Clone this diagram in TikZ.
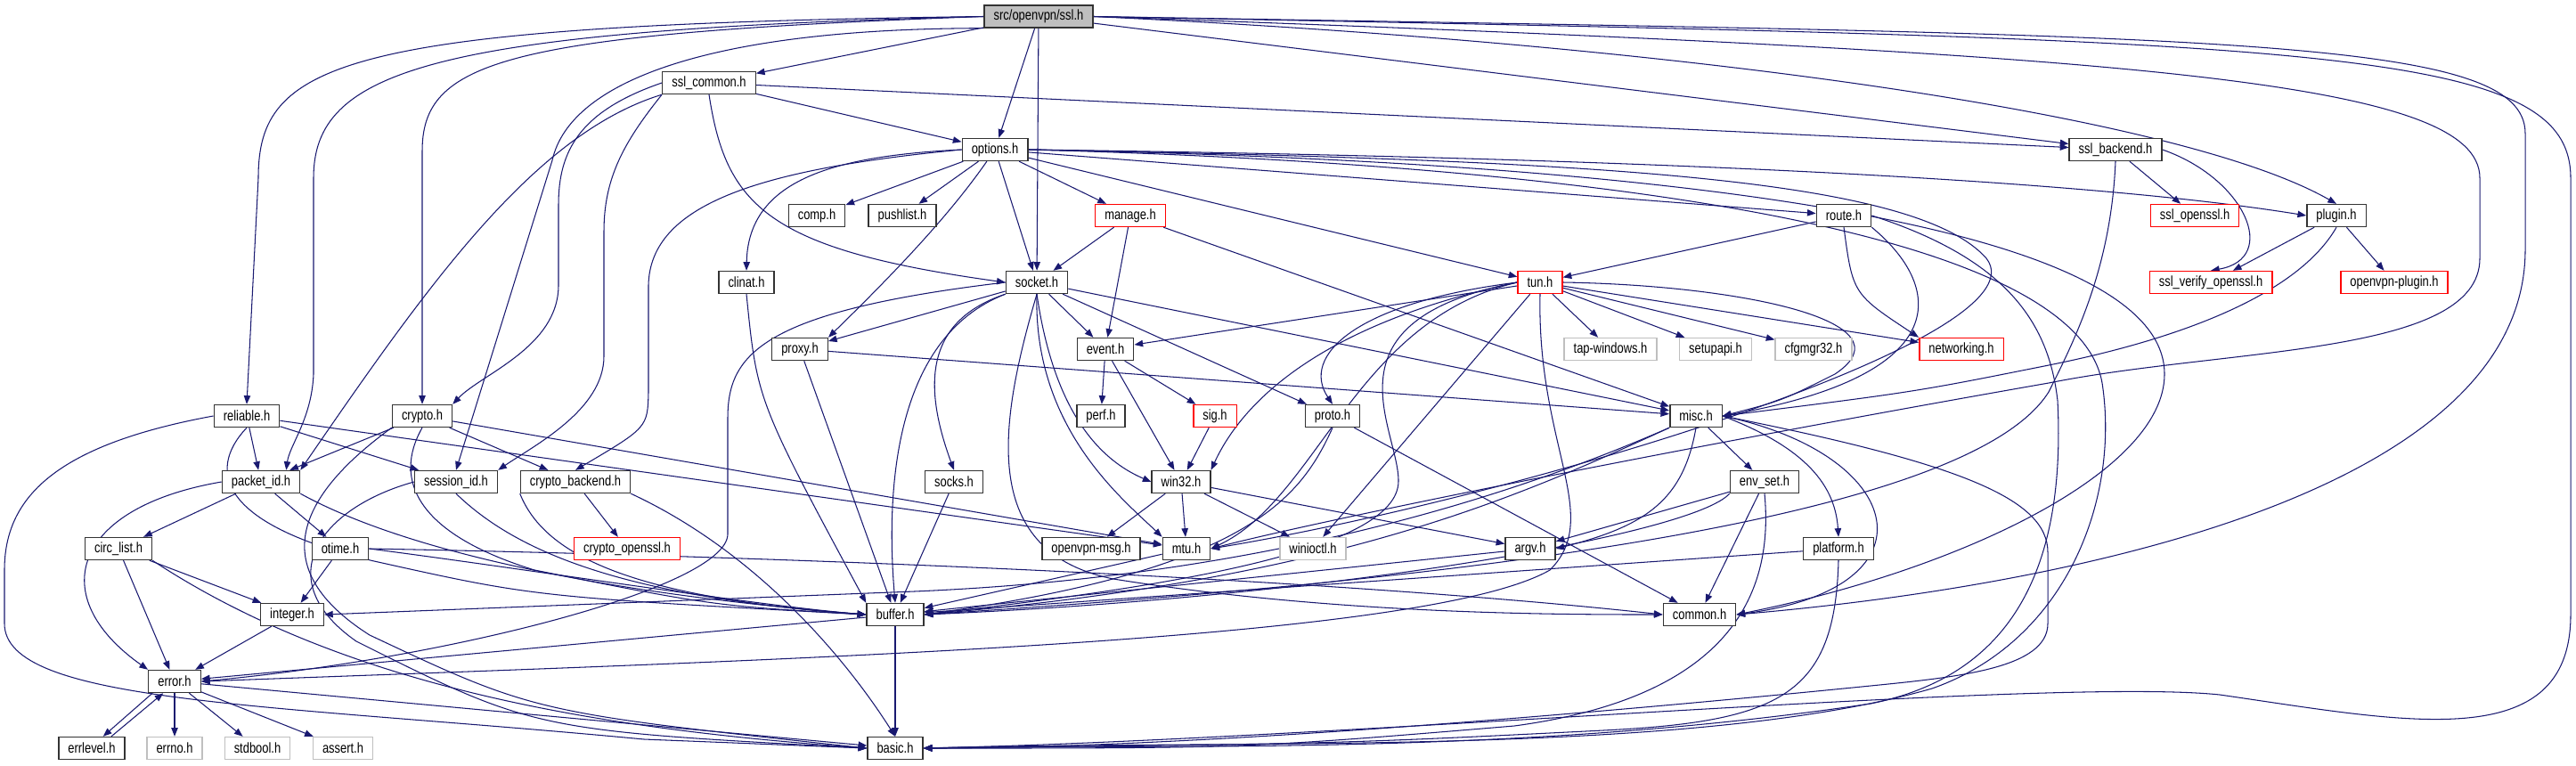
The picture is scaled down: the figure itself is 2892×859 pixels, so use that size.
\documentclass[tikz,border=0pt]{standalone}
\usepackage{fontspec}
\setmainfont{Liberation Sans}[FakeStretch=0.8]
\usetikzlibrary{arrows.meta,backgrounds}
\definecolor{depblue}{RGB}{25,25,112}
\definecolor{boxgray}{RGB}{191,191,191}
\definecolor{boxred}{RGB}{255,0,0}

\begin{document}
\begin{tikzpicture}[x=0.02cm, y=-0.02cm,
  hdr/.style={draw=black!80, line width=0.8pt, fill=white, minimum height=0.5cm,
    inner xsep=6pt, inner ysep=0pt, font=\fontsize{9.2}{10}\selectfont},
  hdrred/.style={hdr, draw=boxred},
  hdrsys/.style={hdr, draw=boxgray},
  hdrroot/.style={hdr, fill=boxgray},
  inc/.style={draw=depblue, line width=0.6pt, -{Triangle[length=5.5pt,width=4.2pt]}}]
\useasboundingbox (0,0) rectangle (2892,859);

% files, one row per rank
\node[hdrroot] (ssl) at (1166,18.5) {src/openvpn/ssl.h};
\node[hdr] (sslcommon) at (796,93) {ssl\_common.h};
\node[hdr] (options) at (1117,168) {options.h};
\node[hdr] (sslbackend) at (2375,168) {ssl\_backend.h};
\node[hdr] (comp) at (917,242) {comp.h};
\node[hdr] (pushlist) at (1013,242) {pushlist.h};
\node[hdrred] (manage) at (1269,242) {manage.h};
\node[hdr] (route) at (2070,242) {route.h};
\node[hdrred] (sslopenssl) at (2464,242) {ssl\_openssl.h};
\node[hdr] (plugin) at (2623,242) {plugin.h};
\node[hdr] (clinat) at (838,317) {clinat.h};
\node[hdr] (socket) at (1164,317) {socket.h};
\node[hdrred] (tun) at (1729,317) {tun.h};
\node[hdrred] (sslverify) at (2482,317) {ssl\_verify\_openssl.h};
\node[hdrred] (ovpnplugin) at (2688,317) {openvpn-plugin.h};
\node[hdr] (proxy) at (898,392) {proxy.h};
\node[hdr] (event) at (1241,392) {event.h};
\node[hdrsys] (tapwin) at (1808,392) {tap-windows.h};
\node[hdrsys] (setupapi) at (1926,392) {setupapi.h};
\node[hdrsys] (cfgmgr) at (2036,392) {cfgmgr32.h};
\node[hdrred] (networking) at (2202,392) {networking.h};
\node[hdr] (reliable) at (277,467) {reliable.h};
\node[hdr] (crypto) at (474,467) {crypto.h};
\node[hdr] (perf) at (1236,467) {perf.h};
\node[hdrred] (sig) at (1364,467) {sig.h};
\node[hdr] (proto) at (1496,467) {proto.h};
\node[hdr] (misc) at (1904,467) {misc.h};
\node[hdr] (packetid) at (293,541) {packet\_id.h};
\node[hdr] (sessionid) at (512,541) {session\_id.h};
\node[hdr] (cryptobackend) at (646,541) {crypto\_backend.h};
\node[hdr] (socks) at (1071,541) {socks.h};
\node[hdr] (win32) at (1326,541) {win32.h};
\node[hdr] (envset) at (1981,541) {env\_set.h};
\node[hdr] (circlist) at (133,616) {circ\_list.h};
\node[hdr] (otime) at (382,616) {otime.h};
\node[hdrred] (cryptoopenssl) at (704,616) {crypto\_openssl.h};
\node[hdr] (ovpnmsg) at (1225,616) {openvpn-msg.h};
\node[hdr] (mtu) at (1332,616) {mtu.h};
\node[hdrsys] (winioctl) at (1474,616) {winioctl.h};
\node[hdr] (argv) at (1718,616) {argv.h};
\node[hdr] (platform) at (2064,616) {platform.h};
\node[hdr] (integer) at (328,690) {integer.h};
\node[hdr] (buffer) at (1005,690) {buffer.h};
\node[hdr] (common) at (1908,690) {common.h};
\node[hdr] (error) at (196,765) {error.h};
\node[hdr] (errlevel) at (103,840) {errlevel.h};
\node[hdrsys] (errno) at (196,840) {errno.h};
\node[hdrsys] (stdbool) at (289,840) {stdbool.h};
\node[hdrsys] (assert) at (385,840) {assert.h};
\node[hdr] (basic) at (1005,840) {basic.h};

\begin{scope}[on background layer]
% ssl.h
\draw[inc] (ssl) -- (sslcommon);
\draw[inc] (ssl) -- (options);
\draw[inc] (ssl) -- (socket);
\draw[inc] (ssl) -- (sslbackend);
\draw[inc] (ssl.west) .. controls (380,28) and (290,70) .. (290,200) -- (reliable.north);
\draw[inc] (ssl.west) .. controls (480,34) and (352,80) .. (352,200) -- (352,420) .. controls (350,470) and (325,500) .. (packetid.25);
\draw[inc] (ssl.west) .. controls (560,38) and (474,70) .. (474,170) -- (crypto.north);
\draw[inc] (ssl.south west) .. controls (800,32) and (640,90) .. (620,180) -- (sessionid.north);
\draw[inc] (ssl.east) .. controls (1900,50) and (2450,130) .. (plugin.north);
\draw[inc] (ssl.east) .. controls (2500,40) and (2835,40) .. (2835,150) -- (2835,280) .. controls (2835,560) and (2300,660) .. (common.east);
\draw[inc] (ssl.east) .. controls (2600,45) and (2886,50) .. (2886,200) -- (2886,690) .. controls (2886,850) and (2700,810) .. (2492,780) .. controls (2300,760) and (1500,830) .. (basic.east);
\draw[inc] (ssl.east) .. controls (2400,60) and (2784,90) .. (2784,200) -- (2784,290) .. controls (2784,400) and (2500,390) .. (2300,430) .. controls (1900,500) and (1500,580) .. (mtu.east);
% ssl_common.h
\draw[inc] (sslcommon) -- (options);
\draw[inc] (sslcommon) -- (sslbackend);
\draw[inc] (sslcommon.south) .. controls (815,230) and (860,280) .. (socket.west);
\draw[inc] (sslcommon.south west) .. controls (600,150) and (480,320) .. (packetid.north east);
\draw[inc] (sslcommon.west) .. controls (650,125) and (627,170) .. (627,230) -- (627,320) .. controls (627,390) and (540,420) .. (crypto.north east);
\draw[inc] (sslcommon.south west) .. controls (700,160) and (678,200) .. (678,260) -- (678,400) .. controls (678,460) and (600,500) .. (sessionid.north east);
% options.h
\draw[inc] (options) -- (comp);
\draw[inc] (options) -- (pushlist);
\draw[inc] (options) -- (manage);
\draw[inc] (options) -- (socket);
\draw[inc] (options) -- (tun);
\draw[inc] (options) -- (route);
\draw[inc] (options) .. controls (1060,250) and (990,320) .. (proxy.north east);
\draw[inc] (options.west) .. controls (940,175) and (840,200) .. (clinat.north);
\draw[inc] (options.west) .. controls (850,190) and (730,230) .. (728,320) -- (728,440) .. controls (727,480) .. (cryptobackend.north);
\draw[inc] (options.east) .. controls (1700,175) and (2300,195) .. (plugin.west);
\draw[inc] (options.east) .. controls (1800,180) and (2150,200) .. (2230,290) .. controls (2300,380) and (1700,560) .. (mtu.east);
\draw[inc] (options.east) .. controls (1800,180) and (2430,240) .. (2430,420) .. controls (2430,530) and (2200,640) .. (common.east);
\draw[inc] (options.east) .. controls (1800,185) and (2330,260) .. (2360,430) .. controls (2380,560) and (2320,720) .. (2169,773) .. controls (1900,850) and (1400,830) .. (basic.east);
% socket.h
\draw[inc] (socket) -- (proxy);
\draw[inc] (socket) -- (event);
\draw[inc] (socket) -- (proto);
\draw[inc] (socket) -- (misc);
\draw[inc] (socket.south west) .. controls (1040,360) and (1035,430) .. (socks.north);
\draw[inc] (socket.south) .. controls (1180,440) and (1220,510) .. (win32.west);
\draw[inc] (socket.south) .. controls (1160,480) and (1260,560) .. (mtu.north west);
\draw[inc] (socket.south west) .. controls (1000,380) and (995,560) .. (buffer.north);
\draw[inc] (socket.west) .. controls (850,350) and (817,400) .. (817,470) -- (817,600) .. controls (815,660) and (500,740) .. (error.east);
\draw[inc] (socket.south) .. controls (1120,480) and (1100,620) .. (1250,650) .. controls (1500,690) and (1750,690) .. (common.west);
% manage.h, clinat.h, proxy.h
\draw[inc] (manage) -- (socket);
\draw[inc] (manage) -- (event);
\draw[inc] (manage) -- (misc);
\draw[inc] (clinat.south) .. controls (850,450) .. (buffer.north west);
\draw[inc] (proxy) -- (buffer);
\draw[inc] (proxy) -- (misc);
% event.h
\draw[inc] (event) -- (perf);
\draw[inc] (event) -- (sig);
\draw[inc] (event) -- (win32);
\draw[inc] (sig) -- (win32);
% route.h
\draw[inc] (route) -- (tun);
\draw[inc] (route.south) .. controls (2080,330) .. (networking.north west);
\draw[inc] (route.south east) .. controls (2180,320) and (2200,420) .. (misc.east);
\draw[inc] (route.east) .. controls (2250,290) and (2300,360) .. (2310,450) .. controls (2320,650) and (2250,760) .. (2100,790) .. controls (1700,850) and (1300,835) .. (basic.east);
% tun.h
\draw[inc] (tun) -- (tapwin);
\draw[inc] (tun) -- (setupapi);
\draw[inc] (tun) -- (cfgmgr);
\draw[inc] (tun) -- (networking);
\draw[inc] (tun) -- (event);
\draw[inc] (tun) -- (winioctl);
\draw[inc] (tun.west) .. controls (1520,340) and (1460,400) .. (proto.north);
\draw[inc] (tun.west) .. controls (1500,360) and (1400,440) .. (win32.north east);
\draw[inc] (tun.west) .. controls (1520,360) and (1480,560) .. (mtu.east);
\draw[inc] (tun.west) .. controls (1480,360) and (1570,480) .. (1570,540) .. controls (1570,620) and (1300,660) .. (buffer.east);
\draw[inc] (tun.south) .. controls (1725,500) and (1800,580) .. (1740,640) .. controls (1600,720) and (900,740) .. (error.east);
\draw[inc] (tun.east) .. controls (1950,320) and (2150,360) .. (2060,420) .. controls (2000,450) .. (misc.east);
% proto.h
\draw[inc] (proto) -- (common);
\draw[inc] (proto.south) .. controls (1460,560) and (1400,640) .. (buffer.east);
% misc.h
\draw[inc] (misc) -- (envset);
\draw[inc] (misc.south) .. controls (1890,560) and (1850,590) .. (argv.east);
\draw[inc] (misc.east) .. controls (2020,500) and (2060,540) .. (platform.north);
\draw[inc] (misc.east) .. controls (2140,510) and (2180,660) .. (common.east);
\draw[inc] (misc.south west) .. controls (1700,560) and (1500,650) .. (buffer.east);
\draw[inc] (misc.south west) .. controls (1600,600) and (1300,655) .. (1000,665) -- (integer.east);
\draw[inc] (misc.east) .. controls (2200,520) and (2299,560) .. (2299,620) -- (2299,700) .. controls (2299,750) and (2200,760) .. (2100,770) .. controls (1700,810) and (1300,840) .. (basic.east);
% env_set.h, argv.h, platform.h
\draw[inc] (envset) -- (argv);
\draw[inc] (envset) -- (common);
\draw[inc] (envset.south west) .. controls (1900,600) and (1500,670) .. (buffer.east);
\draw[inc] (envset.south) .. controls (1990,650) and (1960,780) .. (1700,815) .. controls (1400,840) .. (basic.east);
\draw[inc] (argv) -- (buffer);
\draw[inc] (platform) -- (buffer);
\draw[inc] (platform.south) .. controls (2060,780) and (2000,810) .. (1800,820) .. controls (1500,835) .. (basic.east);
% win32.h, mtu.h
\draw[inc] (win32) -- (ovpnmsg);
\draw[inc] (win32) -- (mtu);
\draw[inc] (win32) -- (winioctl);
\draw[inc] (win32) -- (argv);
\draw[inc] (mtu) -- (buffer);
% ssl_backend.h, plugin.h
\draw[inc] (sslbackend) -- (sslopenssl);
\draw[inc] (sslbackend.east) .. controls (2520,200) and (2560,290) .. (sslverify.north);
\draw[inc] (sslbackend.south) .. controls (2370,300) and (2330,380) .. (2300,440) .. controls (2200,600) and (1500,660) .. (buffer.east);
\draw[inc] (plugin) -- (sslverify);
\draw[inc] (plugin) -- (ovpnplugin);
\draw[inc] (plugin.south) .. controls (2580,330) and (2450,380) .. (2300,410) .. controls (2150,440) .. (misc.east);
% reliable.h, crypto.h
\draw[inc] (reliable) -- (packetid);
\draw[inc] (reliable) -- (sessionid);
\draw[inc] (reliable) -- (mtu);
\draw[inc] (reliable.south) .. controls (230,530) and (250,590) .. (420,630) .. controls (600,670) .. (buffer.west);
\draw[inc] (reliable.west) .. controls (60,500) and (5,560) .. (5,640) -- (5,700) .. controls (5,790) and (300,790) .. (723,830) -- (basic.west);
\draw[inc] (crypto) -- (packetid);
\draw[inc] (crypto) -- (cryptobackend);
\draw[inc] (crypto) -- (mtu);
\draw[inc] (crypto.south) .. controls (440,540) and (470,600) .. (600,640) .. controls (800,680) .. (buffer.west);
\draw[inc] (crypto.south west) .. controls (330,560) and (300,640) .. (415,713) .. controls (600,800) .. (basic.west);
% packet_id.h, session_id.h, crypto_backend.h
\draw[inc] (packetid) -- (circlist);
\draw[inc] (packetid) -- (otime);
\draw[inc] (packetid.west) .. controls (80,570) and (50,670) .. (error.north west);
\draw[inc] (packetid.south east) .. controls (420,600) and (600,660) .. (buffer.west);
\draw[inc] (sessionid.west) .. controls (360,570) and (300,650) .. (400,720) .. controls (600,820) .. (basic.west);
\draw[inc] (sessionid.south) .. controls (580,620) and (700,670) .. (buffer.west);
\draw[inc] (cryptobackend) -- (cryptoopenssl);
\draw[inc] (cryptobackend.south west) .. controls (610,620) and (700,670) .. (buffer.west);
\draw[inc] (cryptobackend.south east) .. controls (850,620) and (950,740) .. (basic.north);
% circ_list.h, otime.h, integer.h
\draw[inc] (circlist) -- (integer);
\draw[inc] (circlist) -- (error);
\draw[inc] (circlist.south east) .. controls (400,780) and (700,820) .. (basic.west);
\draw[inc] (otime) -- (integer);
\draw[inc] (otime.east) .. controls (900,625) and (1500,650) .. (common.west);
\draw[inc] (otime.east) .. controls (600,640) and (850,680) .. (buffer.west);
\draw[inc] (integer) -- (error);
% error.h, buffer.h, socks.h
\draw[inc] (error.208) -- (errlevel.46);
\draw[inc] (errlevel.31) -- (error.226);
\draw[inc] (error) -- (errno);
\draw[inc] (error) -- (stdbool);
\draw[inc] (error) -- (assert);
\draw[inc] (error) -- (basic);
\draw[inc] (buffer) -- (basic);
\draw[inc] (buffer) -- (error);
\draw[inc] (socks) -- (buffer);
\end{scope}
\end{tikzpicture}
\end{document}
